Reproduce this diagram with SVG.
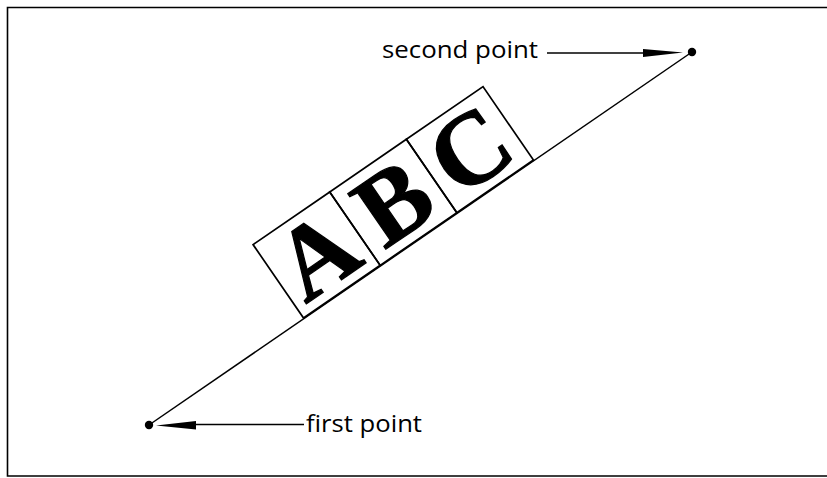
<svg xmlns="http://www.w3.org/2000/svg" width="827" height="478" viewBox="0 0 827 478">
<style>
.frame{fill:none;stroke:#000;stroke-width:1.6}
.ln{fill:none;stroke:#000;stroke-width:1.5}
.box{fill:none;stroke:#000;stroke-width:1.7}
.lbl{font-family:"Open Sans","Liberation Sans",sans-serif;font-size:23px;fill:#000}
.big{font-family:"Liberation Serif","DejaVu Serif",serif;font-weight:bold;font-size:103px;fill:#000;stroke:#000;stroke-width:1.2;text-anchor:middle}
</style>
<rect width="827" height="478" fill="#fff"/>
<path class="frame" d="M828,7.5 H7.5 V476 H828"/>
<g id="connectors">
<line class="ln" x1="149" y1="425" x2="692" y2="52"/>
<line class="ln" x1="547" y1="53" x2="645" y2="53"/>
<polygon points="643,49 683,52.5 643,57" fill="#000"/>
<line class="ln" x1="196" y1="424.5" x2="304" y2="424.5"/>
<polygon points="156,425.5 196,421 196,429.5" fill="#000"/>
</g>
<g id="first-point">
<circle cx="149" cy="425" r="4.2" fill="#000"/>
<text class="lbl" x="306" y="432" textLength="116" lengthAdjust="spacingAndGlyphs">first point</text>
</g>
<g id="second-point">
<circle cx="692" cy="52" r="4.2" fill="#000"/>
<text class="lbl" x="382" y="58" textLength="156" lengthAdjust="spacingAndGlyphs">second point</text>
</g>
<g id="abc" transform="translate(303.5,318) rotate(-34.5)">
<g id="box-a"><rect class="box" x="0" y="-89" width="93" height="89"/><text class="big" x="46.5" y="-10">A</text></g>
<g id="box-b"><rect class="box" x="93" y="-89" width="93" height="89"/><text class="big" x="139.5" y="-10">B</text></g>
<g id="box-c"><rect class="box" x="186" y="-89" width="93" height="89"/><text class="big" x="232.5" y="-10">C</text></g>
</g>
</svg>
